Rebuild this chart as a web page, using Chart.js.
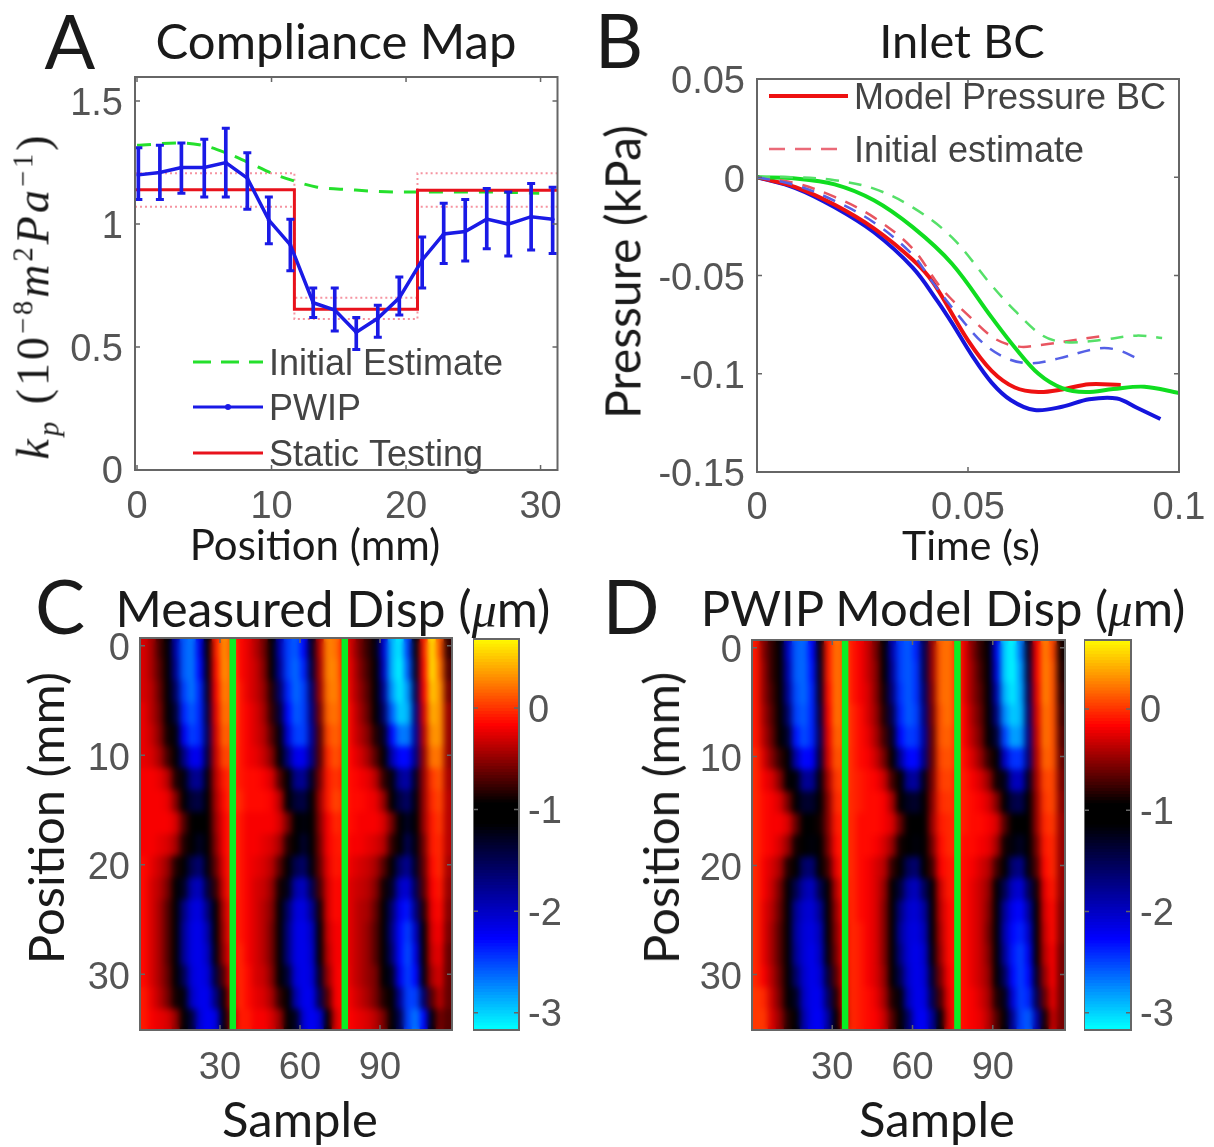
<!DOCTYPE html>
<html>
<head>
<meta charset="utf-8">
<title>Compliance map and displacement</title>
<script src="https://cdn.jsdelivr.net/npm/chart.js@4"></script>
<style>
html, body { margin: 0; background: #fff; }
#fig { position: relative; width: 1214px; height: 1147px; overflow: hidden; filter: blur(0.6px); }
canvas { position: absolute; }
.lbl { position: absolute; white-space: nowrap; transform: translate(-50%, -50%); color: #1a1a1a; font-family: Lato, sans-serif; }
.lbl sup, .lbl sub { font-size: 62%; }
</style>
</head>
<body>
<div id="fig"></div>
<script>
// Panel A: compliance map
var pwipPosition = [0.1, 1.7, 3.3, 5, 6.6, 8.2, 9.8, 11.4, 13.1, 14.7, 16.3, 17.9, 19.5, 21.2, 22.8, 24.4, 26, 27.6, 29.3, 30.9];
var pwipMean = [1.2, 1.21, 1.23, 1.23, 1.25, 1.187, 1.016, 0.915, 0.68, 0.65, 0.56, 0.617, 0.7, 0.854, 0.96, 0.97, 1.02, 1.0, 1.03, 1.02];
var pwipHigh = [1.31, 1.32, 1.33, 1.345, 1.39, 1.29, 1.11, 1.02, 0.74, 0.74, 0.62, 0.67, 0.785, 0.947, 1.085, 1.1, 1.145, 1.13, 1.165, 1.15];
var pwipLow = [1.1, 1.1, 1.125, 1.11, 1.11, 1.06, 0.92, 0.81, 0.62, 0.565, 0.49, 0.54, 0.63, 0.74, 0.84, 0.85, 0.9, 0.87, 0.895, 0.88];
var initialPosition = [0, 3.2, 4.9, 6.6, 8.3, 10, 11.7, 13.4, 15.7, 19.7, 22.5, 26.8, 29.9];
var initialValue = [1.32, 1.33, 1.32, 1.29, 1.25, 1.207, 1.175, 1.15, 1.14, 1.13, 1.13, 1.13, 1.125];
var staticPosition = [-0.15, 11.7, 11.7, 20.85, 20.85, 31.26];
var staticValue = [1.14, 1.14, 0.654, 0.654, 1.138, 1.138];
var staticHigh = [1.207, 1.207, 0.7, 0.7, 1.207, 1.207];
var staticLow = [1.07, 1.07, 0.614, 0.614, 1.07, 1.07];
var aXTicks = [0, 10, 20, 30];
var aYTicks = [0, 0.5, 1, 1.5];

// Panel B: inlet pressure
var blueTime = [0, 0.0091, 0.0184, 0.0277, 0.0369, 0.0426, 0.0463, 0.0509, 0.0556, 0.0602, 0.0658, 0.0723, 0.0787, 0.0853, 0.0899, 0.0956];
var bluePressure = [0, -0.0055, -0.0153, -0.028, -0.046, -0.0625, -0.0745, -0.0905, -0.1045, -0.1135, -0.1185, -0.1168, -0.113, -0.1126, -0.1172, -0.123];
var redTime = [0, 0.0091, 0.0184, 0.0277, 0.0369, 0.0417, 0.05, 0.0556, 0.0611, 0.0667, 0.0723, 0.0787, 0.0862];
var redPressure = [0, -0.005, -0.014, -0.026, -0.042, -0.0535, -0.083, -0.0985, -0.107, -0.1093, -0.108, -0.1053, -0.1057];
var greenTime = [0, 0.0091, 0.0184, 0.0277, 0.0369, 0.0462, 0.0556, 0.0611, 0.0667, 0.0723, 0.0779, 0.0844, 0.0918, 0.1];
var greenPressure = [0, -0.0006, -0.0036, -0.0117, -0.0254, -0.044, -0.0713, -0.0866, -0.1, -0.1073, -0.1093, -0.1078, -0.1066, -0.1098];
var greenDashTime = [0, 0.0091, 0.0184, 0.0277, 0.0369, 0.0462, 0.0556, 0.0611, 0.0677, 0.0733, 0.0816, 0.0899, 0.096];
var greenDashPressure = [0, 0, -0.0015, -0.0058, -0.0153, -0.0306, -0.055, -0.0679, -0.0806, -0.084, -0.0828, -0.0806, -0.0818];
var redDashTime = [0, 0.0091, 0.0184, 0.0277, 0.0369, 0.0435, 0.0509, 0.0565, 0.0621, 0.0677, 0.0742, 0.0811];
var redDashPressure = [0, -0.003, -0.01, -0.0204, -0.0363, -0.056, -0.072, -0.0823, -0.0862, -0.0852, -0.0832, -0.081];
var blueDashTime = [0, 0.0091, 0.0184, 0.0277, 0.0369, 0.0418, 0.0481, 0.0537, 0.0593, 0.0649, 0.0713, 0.0806, 0.0853, 0.0908];
var blueDashPressure = [0, -0.004, -0.012, -0.023, -0.0395, -0.054, -0.0713, -0.0847, -0.0923, -0.0947, -0.0923, -0.0872, -0.0878, -0.0929];
var bXTicks = [0, 0.05, 0.1];
var bYTicks = [0.05, 0, -0.05, -0.1, -0.15];

// Panels C and D: displacement, one row per 2 mm, one column per 3 samples
var rowPositions = [0, 2, 4, 6, 8, 10, 12, 14, 16, 18, 20, 22, 24, 26, 28, 30, 32, 34];
var columnSamples = [1.5, 4.5, 7.5, 10.5, 13.5, 16.5, 19.5, 22.5, 25.5, 28.5, 31.5, 34.5, 37.5, 40.5, 43.5, 46.5, 49.5, 52.5, 55.5, 58.5, 61.5, 64.5, 67.5, 70.5, 73.5, 76.5, 79.5, 82.5, 85.5, 88.5, 91.5, 94.5, 97.5, 100.5, 103.5, 106.5, 109.5, 112.5, 115.5];
var measuredDisp = [
  [-0.3,-0.45,-0.75,-1.1,-1.9,-2.6,-2.7,-2.2,-1.1,-0.1,0.3,0.1,-0.15,-0.25,-0.4,-0.6,-1.0,-1.9,-2.5,-2.6,-2.3,-1.3,-0.4,0.25,0.2,-0.1,-0.35,-0.6,-0.8,-1.2,-2.1,-2.9,-3.1,-2.5,-1.2,-0.1,0.6,0.1,-0.8],
  [-0.3,-0.45,-0.7,-1.05,-1.8,-2.6,-2.7,-2.3,-1.2,-0.15,0.3,0.15,-0.15,-0.25,-0.35,-0.55,-0.95,-1.8,-2.5,-2.65,-2.4,-1.4,-0.45,0.25,0.25,-0.1,-0.3,-0.55,-0.75,-1.1,-2.0,-2.9,-3.15,-2.6,-1.3,-0.15,0.6,0.2,-0.7],
  [-0.3,-0.4,-0.65,-1.0,-1.6,-2.5,-2.7,-2.4,-1.3,-0.2,0.25,0.15,-0.1,-0.25,-0.35,-0.5,-0.85,-1.6,-2.4,-2.65,-2.5,-1.6,-0.5,0.2,0.25,-0.05,-0.3,-0.5,-0.7,-1.0,-1.8,-2.8,-3.1,-2.8,-1.5,-0.2,0.5,0.3,-0.6],
  [-0.25,-0.4,-0.6,-0.95,-1.4,-2.4,-2.6,-2.4,-1.4,-0.25,0.2,0.15,-0.1,-0.2,-0.3,-0.45,-0.8,-1.4,-2.3,-2.6,-2.5,-1.7,-0.6,0.15,0.2,0,-0.25,-0.45,-0.65,-0.95,-1.6,-2.6,-3.0,-2.9,-1.7,-0.3,0.4,0.3,-0.5],
  [-0.25,-0.35,-0.55,-0.9,-1.2,-2.2,-2.5,-2.4,-1.5,-0.3,0.15,0.1,-0.1,-0.2,-0.3,-0.4,-0.7,-1.2,-2.1,-2.5,-2.5,-1.8,-0.7,0.05,0.15,0,-0.25,-0.4,-0.55,-0.85,-1.3,-2.3,-2.7,-2.7,-1.8,-0.4,0.3,0.3,-0.5],
  [-0.25,-0.3,-0.45,-0.75,-1.05,-1.7,-2.2,-2.2,-1.4,-0.35,0.05,0.05,-0.1,-0.2,-0.25,-0.35,-0.55,-1.0,-1.7,-2.2,-2.2,-1.7,-0.7,-0.05,0.1,-0.05,-0.2,-0.3,-0.45,-0.7,-1.1,-1.9,-2.3,-2.3,-1.7,-0.5,0.2,0.2,-0.5],
  [-0.2,-0.2,-0.25,-0.4,-0.85,-1.2,-1.75,-1.8,-1.2,-0.4,-0.1,0,-0.1,-0.15,-0.15,-0.2,-0.3,-0.7,-1.15,-1.75,-1.8,-1.3,-0.6,-0.1,0,-0.1,-0.15,-0.2,-0.25,-0.4,-0.8,-1.2,-1.8,-1.9,-1.3,-0.5,0,0.1,-0.45],
  [-0.2,-0.2,-0.2,-0.25,-0.55,-1.0,-1.4,-1.45,-1.1,-0.45,-0.15,0,-0.05,-0.15,-0.15,-0.15,-0.2,-0.4,-0.95,-1.4,-1.45,-1.1,-0.5,-0.1,0.05,-0.05,-0.15,-0.15,-0.2,-0.25,-0.5,-1.0,-1.45,-1.6,-1.2,-0.5,-0.05,0.05,-0.4],
  [-0.2,-0.2,-0.2,-0.2,-0.3,-0.7,-1.05,-1.15,-1.0,-0.5,-0.2,-0.05,-0.1,-0.2,-0.2,-0.2,-0.2,-0.3,-0.6,-1.05,-1.2,-1.0,-0.55,-0.2,-0.05,-0.1,-0.15,-0.2,-0.2,-0.2,-0.3,-0.6,-1.1,-1.3,-1.1,-0.5,-0.1,0,-0.4],
  [-0.2,-0.2,-0.25,-0.3,-0.45,-0.85,-1.1,-1.3,-1.05,-0.55,-0.2,-0.05,-0.1,-0.2,-0.2,-0.25,-0.3,-0.45,-0.85,-1.1,-1.35,-1.05,-0.6,-0.2,-0.1,-0.1,-0.2,-0.2,-0.25,-0.3,-0.4,-0.8,-1.1,-1.5,-1.2,-0.6,-0.1,-0.05,-0.4],
  [-0.15,-0.25,-0.35,-0.5,-0.85,-1.1,-1.5,-1.65,-1.2,-0.65,-0.25,-0.05,-0.1,-0.2,-0.25,-0.3,-0.4,-0.7,-1.1,-1.5,-1.6,-1.2,-0.65,-0.25,-0.1,-0.15,-0.25,-0.3,-0.35,-0.45,-0.7,-1.1,-1.6,-1.8,-1.3,-0.65,-0.15,-0.05,-0.45],
  [-0.15,-0.3,-0.4,-0.6,-1.0,-1.3,-1.9,-2.0,-1.4,-0.8,-0.3,-0.05,-0.1,-0.2,-0.3,-0.35,-0.5,-0.9,-1.25,-1.9,-2.0,-1.5,-0.75,-0.3,-0.15,-0.2,-0.3,-0.35,-0.4,-0.55,-0.9,-1.3,-2.0,-2.1,-1.5,-0.7,-0.2,-0.1,-0.5],
  [-0.15,-0.3,-0.45,-0.7,-1.05,-1.7,-2.1,-2.15,-1.7,-1.0,-0.4,-0.1,-0.1,-0.2,-0.3,-0.4,-0.55,-1.0,-1.6,-2.1,-2.15,-1.8,-0.9,-0.3,-0.15,-0.2,-0.3,-0.4,-0.45,-0.65,-1.0,-1.6,-2.2,-2.35,-1.7,-0.85,-0.25,-0.15,-0.55],
  [-0.15,-0.3,-0.45,-0.7,-1.05,-1.8,-2.15,-2.2,-1.9,-1.1,-0.45,-0.1,-0.1,-0.2,-0.3,-0.4,-0.6,-1.0,-1.7,-2.15,-2.2,-2.0,-1.05,-0.35,-0.2,-0.2,-0.3,-0.4,-0.5,-0.7,-1.05,-1.7,-2.3,-2.5,-2.0,-1.0,-0.3,-0.2,-0.6],
  [-0.15,-0.3,-0.45,-0.7,-1.05,-1.8,-2.15,-2.2,-2.0,-1.2,-0.5,-0.15,-0.05,-0.2,-0.3,-0.4,-0.6,-1.0,-1.7,-2.15,-2.2,-2.05,-1.15,-0.4,-0.2,-0.2,-0.3,-0.4,-0.5,-0.7,-1.05,-1.6,-2.3,-2.55,-2.15,-1.05,-0.35,-0.25,-0.65],
  [-0.15,-0.3,-0.45,-0.65,-1.0,-1.5,-2.1,-2.2,-2.1,-1.4,-0.7,-0.2,-0.05,-0.15,-0.3,-0.35,-0.55,-0.95,-1.4,-2.1,-2.2,-2.1,-1.3,-0.5,-0.2,-0.15,-0.3,-0.4,-0.5,-0.6,-0.95,-1.3,-2.2,-2.5,-2.3,-1.2,-0.45,-0.3,-0.65],
  [-0.1,-0.25,-0.4,-0.6,-0.9,-1.2,-2.0,-2.2,-2.2,-1.7,-0.9,-0.3,-0.05,-0.15,-0.25,-0.3,-0.45,-0.8,-1.15,-1.9,-2.2,-2.2,-1.5,-0.7,-0.2,-0.15,-0.25,-0.35,-0.45,-0.6,-0.85,-1.1,-1.8,-2.5,-2.5,-1.6,-0.7,-0.4,-0.65],
  [-0.1,-0.2,-0.25,-0.3,-0.5,-1.0,-1.4,-2.1,-2.25,-2.15,-1.2,-0.5,-0.1,-0.1,-0.2,-0.2,-0.3,-0.5,-1.0,-1.3,-2.1,-2.25,-2.1,-1.1,-0.3,-0.15,-0.2,-0.25,-0.3,-0.4,-0.6,-1.0,-1.5,-2.5,-2.7,-2.3,-1.2,-0.6,-0.7]
];
var modelDisp = [
  [-0.1,-0.55,-0.8,-1.1,-2.0,-2.6,-2.65,-2.3,-1.2,-0.1,0.2,0.1,-0.1,-0.2,-0.35,-0.6,-1.0,-1.9,-2.5,-2.6,-2.4,-1.5,-0.5,0.15,0.2,0,-0.25,-0.55,-0.8,-1.15,-2.2,-3.0,-3.15,-2.7,-1.3,-0.2,0.25,0.05,-0.9],
  [-0.1,-0.5,-0.8,-1.1,-1.9,-2.6,-2.65,-2.35,-1.25,-0.1,0.2,0.1,-0.1,-0.2,-0.35,-0.55,-0.95,-1.8,-2.5,-2.6,-2.45,-1.5,-0.5,0.15,0.2,0,-0.25,-0.5,-0.75,-1.1,-2.1,-3.0,-3.15,-2.8,-1.4,-0.2,0.25,0.1,-0.85],
  [-0.1,-0.5,-0.75,-1.05,-1.8,-2.55,-2.65,-2.4,-1.3,-0.15,0.2,0.1,-0.1,-0.2,-0.3,-0.55,-0.9,-1.7,-2.45,-2.6,-2.45,-1.6,-0.55,0.15,0.2,0,-0.25,-0.5,-0.7,-1.05,-1.9,-2.9,-3.1,-2.85,-1.5,-0.25,0.25,0.1,-0.8],
  [-0.1,-0.45,-0.7,-1.0,-1.6,-2.5,-2.6,-2.4,-1.4,-0.2,0.2,0.1,-0.05,-0.15,-0.3,-0.5,-0.85,-1.5,-2.4,-2.6,-2.5,-1.7,-0.6,0.1,0.2,0,-0.2,-0.45,-0.65,-1.0,-1.7,-2.75,-3.0,-2.9,-1.6,-0.3,0.2,0.1,-0.75],
  [-0.1,-0.4,-0.65,-0.95,-1.35,-2.35,-2.55,-2.4,-1.5,-0.25,0.15,0.1,-0.05,-0.15,-0.25,-0.45,-0.75,-1.3,-2.3,-2.5,-2.45,-1.8,-0.65,0.1,0.15,0,-0.2,-0.4,-0.6,-0.95,-1.4,-2.5,-2.85,-2.8,-1.7,-0.35,0.2,0.1,-0.7],
  [-0.05,-0.3,-0.55,-0.8,-1.1,-1.9,-2.3,-2.25,-1.4,-0.3,0.1,0.05,-0.05,-0.15,-0.2,-0.35,-0.6,-1.05,-1.8,-2.3,-2.3,-1.7,-0.65,0.05,0.1,0,-0.15,-0.3,-0.5,-0.8,-1.1,-2.0,-2.45,-2.45,-1.65,-0.4,0.15,0.1,-0.65],
  [-0.05,-0.2,-0.3,-0.55,-0.95,-1.2,-1.8,-1.8,-1.2,-0.45,0,0.05,-0.05,-0.1,-0.15,-0.2,-0.35,-0.75,-1.15,-1.8,-1.85,-1.25,-0.6,0,0.05,-0.05,-0.1,-0.2,-0.3,-0.5,-0.9,-1.25,-1.95,-2.0,-1.3,-0.45,0.05,0.05,-0.6],
  [-0.05,-0.15,-0.2,-0.3,-0.6,-1.0,-1.35,-1.35,-1.05,-0.55,-0.05,0,-0.05,-0.1,-0.15,-0.15,-0.2,-0.45,-0.95,-1.3,-1.35,-1.05,-0.55,-0.05,0,-0.05,-0.1,-0.15,-0.2,-0.3,-0.55,-1.0,-1.45,-1.5,-1.1,-0.5,0,0.05,-0.55],
  [-0.05,-0.15,-0.2,-0.2,-0.3,-0.65,-1.05,-1.05,-0.9,-0.55,-0.1,-0.05,-0.05,-0.15,-0.15,-0.15,-0.2,-0.3,-0.65,-1.0,-1.05,-0.95,-0.5,-0.1,-0.05,-0.05,-0.1,-0.15,-0.15,-0.2,-0.3,-0.7,-1.05,-1.1,-1.0,-0.5,-0.05,0,-0.5],
  [-0.05,-0.15,-0.2,-0.3,-0.5,-0.9,-1.15,-1.2,-1.0,-0.6,-0.15,-0.05,-0.05,-0.15,-0.15,-0.2,-0.3,-0.5,-0.9,-1.1,-1.2,-1.0,-0.6,-0.15,-0.05,-0.05,-0.15,-0.15,-0.2,-0.25,-0.45,-0.9,-1.2,-1.3,-1.05,-0.6,-0.1,-0.05,-0.5],
  [-0.05,-0.2,-0.3,-0.45,-0.85,-1.1,-1.6,-1.65,-1.15,-0.75,-0.25,-0.05,-0.05,-0.15,-0.2,-0.3,-0.4,-0.8,-1.1,-1.55,-1.65,-1.15,-0.75,-0.2,-0.1,-0.1,-0.15,-0.2,-0.3,-0.4,-0.75,-1.1,-1.65,-1.75,-1.2,-0.7,-0.15,-0.05,-0.5],
  [-0.05,-0.2,-0.35,-0.6,-1.0,-1.5,-1.9,-2.0,-1.5,-1.0,-0.4,-0.1,-0.05,-0.15,-0.2,-0.3,-0.5,-0.95,-1.4,-1.9,-2.0,-1.55,-0.95,-0.35,-0.1,-0.1,-0.15,-0.25,-0.35,-0.5,-0.95,-1.5,-2.0,-2.1,-1.55,-0.9,-0.25,-0.1,-0.5],
  [-0.05,-0.25,-0.4,-0.65,-1.05,-1.8,-2.05,-2.1,-1.8,-1.05,-0.5,-0.15,-0.05,-0.15,-0.2,-0.3,-0.55,-1.0,-1.7,-2.05,-2.1,-1.85,-1.05,-0.4,-0.15,-0.1,-0.15,-0.25,-0.35,-0.55,-1.0,-1.8,-2.2,-2.3,-1.85,-1.0,-0.3,-0.15,-0.55],
  [-0.05,-0.25,-0.45,-0.7,-1.05,-1.85,-2.1,-2.15,-1.95,-1.1,-0.55,-0.2,-0.05,-0.1,-0.2,-0.3,-0.55,-1.0,-1.8,-2.1,-2.15,-1.95,-1.1,-0.45,-0.15,-0.1,-0.15,-0.25,-0.35,-0.6,-1.05,-1.9,-2.3,-2.4,-2.05,-1.05,-0.35,-0.15,-0.55],
  [-0.05,-0.25,-0.45,-0.7,-1.05,-1.8,-2.1,-2.2,-2.0,-1.2,-0.6,-0.2,-0.05,-0.1,-0.2,-0.3,-0.55,-1.0,-1.7,-2.1,-2.2,-2.05,-1.2,-0.5,-0.15,-0.1,-0.15,-0.25,-0.35,-0.55,-1.0,-1.8,-2.35,-2.5,-2.2,-1.15,-0.4,-0.2,-0.6],
  [-0.05,-0.2,-0.4,-0.65,-1.0,-1.6,-2.05,-2.2,-2.1,-1.4,-0.7,-0.25,-0.05,-0.1,-0.2,-0.3,-0.5,-0.95,-1.5,-2.05,-2.2,-2.1,-1.35,-0.6,-0.2,-0.1,-0.15,-0.25,-0.35,-0.5,-0.95,-1.55,-2.3,-2.5,-2.3,-1.3,-0.5,-0.2,-0.6],
  [0,-0.05,-0.35,-0.6,-0.95,-1.3,-2.0,-2.2,-2.2,-1.6,-0.85,-0.3,-0.05,-0.1,-0.15,-0.25,-0.45,-0.85,-1.2,-1.95,-2.2,-2.15,-1.5,-0.75,-0.25,-0.1,-0.15,-0.2,-0.3,-0.45,-0.85,-1.25,-2.1,-2.5,-2.4,-1.5,-0.65,-0.25,-0.6],
  [0,0,-0.3,-0.5,-0.85,-1.1,-1.9,-2.2,-2.25,-1.85,-1.05,-0.4,-0.05,-0.1,-0.15,-0.2,-0.35,-0.7,-1.05,-1.6,-2.2,-2.25,-1.8,-1.0,-0.3,-0.1,-0.15,-0.2,-0.25,-0.4,-0.7,-1.05,-1.8,-2.5,-2.6,-1.9,-0.9,-0.35,-0.6]
];
var cutSamples = [34.8, 76.8];
var heatXTicks = [30, 60, 90];
var heatYTicks = [0, 10, 20, 30];
var colorbarTicks = [0, -1, -2, -3];

// Colour map
var cmapValues = [-3.17, -2.28, -1.15, -0.95, -0.18, 0.28, 0.68];
var cmapColors = [[0, 255, 255], [0, 0, 255], [0, 0, 0], [0, 0, 0], [255, 0, 0], [255, 140, 0], [255, 255, 0]];

var TICK_FONT = "Liberation Sans";
var TICK_COLOR = "#555";
var fig = document.getElementById("fig");

function heatColor(v) {
  if (v <= cmapValues[0]) return "rgb(" + cmapColors[0].join(",") + ")";
  for (var i = 1; i < cmapValues.length; i++) {
    if (v <= cmapValues[i]) {
      var f = (v - cmapValues[i - 1]) / (cmapValues[i] - cmapValues[i - 1]);
      var a = cmapColors[i - 1], b = cmapColors[i];
      return "rgb(" + [0, 1, 2].map((k) => Math.round(a[k] + (b[k] - a[k]) * f)).join(",") + ")";
    }
  }
  return "rgb(" + cmapColors[cmapColors.length - 1].join(",") + ")";
}

function zip(xs, ys) {
  return xs.map((x, i) => ({ x: x, y: ys[i] }));
}

function addText(html, x, y, size, opts) {
  var el = document.createElement("div");
  el.className = "lbl";
  el.innerHTML = html;
  el.style.left = x + "px";
  el.style.top = y + "px";
  el.style.fontSize = size + "px";
  opts = opts || {};
  if (opts.rotate) el.style.transform = "translate(-50%, -50%) rotate(-90deg)";
  if (opts.family) el.style.fontFamily = opts.family;
  if (opts.spacing) el.style.letterSpacing = opts.spacing + "px";
  fig.appendChild(el);
}

function addCanvas(box) {
  var c = document.createElement("canvas");
  c.width = box.right - box.left;
  c.height = box.bottom - box.top;
  c.style.left = box.left + "px";
  c.style.top = box.top + "px";
  fig.appendChild(c);
  return c.getContext("2d");
}

// Frame and small inward ticks on all four sides, like the MATLAB axes
var framePlugin = {
  id: "frame",
  afterDraw(chart) {
    var ctx = chart.ctx, a = chart.chartArea, len = 5;
    ctx.save();
    ctx.strokeStyle = "#666";
    ctx.lineWidth = 2;
    ctx.strokeRect(a.left, a.top, a.right - a.left, a.bottom - a.top);
    ctx.lineWidth = 1.5;
    ctx.beginPath();
    if (chart.scales.x.options.display) {
      chart.scales.x.ticks.forEach((t) => {
        var px = chart.scales.x.getPixelForValue(t.value);
        ctx.moveTo(px, a.top); ctx.lineTo(px, a.top + len);
        ctx.moveTo(px, a.bottom); ctx.lineTo(px, a.bottom - len);
      });
    }
    chart.scales.y.ticks.forEach((t) => {
      var py = chart.scales.y.getPixelForValue(t.value);
      ctx.moveTo(a.left, py); ctx.lineTo(a.left + len, py);
      ctx.moveTo(a.right, py); ctx.lineTo(a.right - len, py);
    });
    ctx.stroke();
    ctx.restore();
  },
};

// Soften the cells just before the green lines go on
var smoothPlugin = {
  id: "smooth",
  beforeDatasetDraw(chart, args) {
    if (args.index !== chart.data.datasets.length - 1) return;
    var ctx = chart.ctx, a = chart.chartArea;
    var w = a.right - a.left, h = a.bottom - a.top;
    ctx.save();
    ctx.beginPath();
    ctx.rect(a.left, a.top, w, h);
    ctx.clip();
    ctx.filter = "blur(3px)";
    ctx.drawImage(chart.canvas, a.left, a.top, w, h, a.left, a.top, w, h);
    ctx.restore();
  },
};

function legendPlugin(box, items) {
  return {
    id: "insideLegend",
    afterDatasetsDraw(chart) {
      var ctx = chart.ctx;
      ctx.save();
      ctx.font = "36px " + TICK_FONT;
      ctx.textBaseline = "middle";
      items.forEach((it) => {
        ctx.strokeStyle = it.color;
        ctx.lineWidth = it.width;
        ctx.setLineDash(it.dash || []);
        ctx.beginPath();
        ctx.moveTo(it.x0 - box.left, it.y - box.top);
        ctx.lineTo(it.x1 - box.left, it.y - box.top);
        ctx.stroke();
        ctx.setLineDash([]);
        if (it.dot) {
          ctx.fillStyle = it.color;
          ctx.beginPath();
          ctx.arc((it.x0 + it.x1) / 2 - box.left, it.y - box.top, 3, 0, Math.PI * 2);
          ctx.fill();
        }
        ctx.fillStyle = "#444";
        ctx.fillText(it.label, it.tx - box.left, it.y - box.top + 3);
      });
      ctx.restore();
    },
  };
}

function noPadding(s) {
  s.paddingLeft = 0;
  s.paddingRight = 0;
  s.paddingTop = 0;
  s.paddingBottom = 0;
}

function tickScale(min, max, values, pad, labelOffset, extra) {
  return Object.assign({
    min: min,
    max: max,
    type: "linear",
    offset: false,
    grid: { display: false, drawTicks: false },
    border: { display: false },
    afterBuildTicks(s) { s.ticks = values.map((v) => ({ value: v })); },
    ticks: {
      autoSkip: false,
      maxRotation: 0,
      padding: pad,
      labelOffset: labelOffset,
      color: TICK_COLOR,
      font: { family: TICK_FONT, size: 38 },
      callback: (v) => String(v),
    },
  }, extra);
}

function axesOptions(box, plot, xScale, yScale) {
  xScale.afterFit = (s) => { s.height = box.bottom - plot.bottom; noPadding(s); };
  yScale.afterFit = (s) => { s.width = plot.left - box.left; noPadding(s); };
  return {
    responsive: false,
    animation: false,
    layout: { padding: { left: 0, top: plot.top - box.top, right: box.right - plot.right, bottom: 0 } },
    plugins: { legend: { display: false }, tooltip: { enabled: false } },
    scales: { x: xScale, y: yScale },
  };
}

// Panel A
var aBox = { left: 40, top: 40, right: 590, bottom: 530 };
var aPlot = { left: 135, top: 77, right: 557.5, bottom: 470 };
new Chart(addCanvas(aBox), {
  type: "line",
  data: {
    datasets: [
      { label: "Static high", data: zip(staticPosition, staticHigh), borderColor: "rgba(240,90,110,0.65)", borderWidth: 2, borderDash: [2, 3], pointRadius: 0, order: 5 },
      { label: "Static low", data: zip(staticPosition, staticLow), borderColor: "rgba(240,90,110,0.65)", borderWidth: 2, borderDash: [2, 3], pointRadius: 0, order: 5 },
      { label: "Static Testing", data: zip(staticPosition, staticValue), borderColor: "#e8121c", borderWidth: 3, pointRadius: 0, order: 3 },
      { label: "Initial Estimate", data: zip(initialPosition, initialValue), borderColor: "#25e02c", borderWidth: 3, borderDash: [14, 11], pointRadius: 0, cubicInterpolationMode: "monotone", order: 4 },
      { type: "bar", label: "PWIP range", data: pwipPosition.map((x, i) => ({ x: x, y: [pwipLow[i], pwipHigh[i]] })), backgroundColor: "#1a1ae6", barThickness: 3, borderWidth: 0, order: 2 },
      { label: "PWIP high", data: zip(pwipPosition, pwipHigh), showLine: false, pointStyle: "line", pointRadius: 4, pointBorderWidth: 3, pointBorderColor: "#1a1ae6", order: 2 },
      { label: "PWIP low", data: zip(pwipPosition, pwipLow), showLine: false, pointStyle: "line", pointRadius: 4, pointBorderWidth: 3, pointBorderColor: "#1a1ae6", order: 2 },
      { label: "PWIP", data: zip(pwipPosition, pwipMean), borderColor: "#1a1ae6", borderWidth: 3.5, pointRadius: 2, pointBackgroundColor: "#1a1ae6", pointBorderWidth: 0, order: 1 },
    ],
  },
  options: axesOptions(aBox, aPlot,
    tickScale(-0.15, 31.26, aXTicks, 15, 0),
    tickScale(0, 1.598, aYTicks, 12, 3)),
  plugins: [framePlugin, legendPlugin(aBox, [
    { label: "Initial Estimate", color: "#25e02c", width: 3, dash: [18, 10], x0: 193, x1: 263, tx: 269, y: 362 },
    { label: "PWIP", color: "#1a1ae6", width: 3, dot: true, x0: 193, x1: 263, tx: 269, y: 407 },
    { label: "Static Testing", color: "#e8121c", width: 3, x0: 193, x1: 263, tx: 269, y: 453 },
  ])],
});

// Panel B
var bBox = { left: 650, top: 40, right: 1214, bottom: 530 };
var bPlot = { left: 757, top: 79, right: 1179, bottom: 472 };
new Chart(addCanvas(bBox), {
  type: "line",
  data: {
    datasets: [
      { label: "Blue dashed", data: zip(blueDashTime, blueDashPressure), borderColor: "#5560e6", borderWidth: 2.5, borderDash: [13, 10], pointRadius: 0, tension: 0.35 },
      { label: "Green dashed", data: zip(greenDashTime, greenDashPressure), borderColor: "#55e068", borderWidth: 2.5, borderDash: [13, 10], pointRadius: 0, tension: 0.35 },
      { label: "Initial estimate", data: zip(redDashTime, redDashPressure), borderColor: "#e85560", borderWidth: 2.5, borderDash: [13, 10], pointRadius: 0, tension: 0.35 },
      { label: "Green", data: zip(greenTime, greenPressure), borderColor: "#10dd20", borderWidth: 4, pointRadius: 0, tension: 0.35 },
      { label: "Model Pressure BC", data: zip(redTime, redPressure), borderColor: "#ee1111", borderWidth: 4, pointRadius: 0, tension: 0.35 },
      { label: "Blue", data: zip(blueTime, bluePressure), borderColor: "#1515dd", borderWidth: 4, pointRadius: 0, tension: 0.35 },
    ],
  },
  options: axesOptions(bBox, bPlot,
    tickScale(0, 0.1, bXTicks, 14, 0),
    tickScale(-0.15, 0.05, bYTicks, 12, 4)),
  plugins: [framePlugin, legendPlugin(bBox, [
    { label: "Model Pressure BC", color: "#ee1111", width: 4, x0: 769, x1: 848, tx: 854, y: 96 },
    { label: "Initial estimate", color: "#ea6a78", width: 2.5, dash: [16, 10], x0: 769, x1: 840, tx: 854, y: 149 },
  ])],
});

// Panels C and D
function heatPanel(box, plot, matrix) {
  var datasets = matrix.map((row, r) => ({
    type: "bar",
    label: "Position " + rowPositions[r],
    data: row.map((v, c) => ({ x: columnSamples[c], y: [rowPositions[r] - 1.15, rowPositions[r] + 1.15] })),
    backgroundColor: row.map(heatColor),
    borderWidth: 0,
    barPercentage: 1,
    categoryPercentage: 1,
    grouped: false,
    order: 2,
  }));
  cutSamples.forEach((s) => {
    datasets.push({
      type: "line",
      label: "Cut " + s,
      data: [{ x: s, y: -0.7 }, { x: s, y: 35.1 }],
      borderColor: "#08ee24",
      borderWidth: 6.5,
      pointRadius: 0,
      order: 1,
    });
  });
  new Chart(addCanvas(box), {
    type: "bar",
    data: { datasets: datasets },
    options: axesOptions(box, plot,
      tickScale(0, 117, heatXTicks, 16, 0),
      tickScale(-0.7, 35.1, heatYTicks, 10, 4, { reverse: true })),
    plugins: [smoothPlugin, framePlugin],
  });
}

function colorbar(box, plot) {
  var levels = [];
  for (var i = 0; i < 128; i++) levels.push(-3.17 + (i * 3.85) / 128);
  var datasets = levels.map((v) => ({
    data: [[v - 0.01, v + 3.85 / 128 + 0.01]],
    backgroundColor: heatColor(v + 1.925 / 128),
    borderWidth: 0,
    barPercentage: 1,
    categoryPercentage: 1,
    grouped: false,
  }));
  new Chart(addCanvas(box), {
    type: "bar",
    data: { labels: ["colour"], datasets: datasets },
    options: {
      responsive: false,
      animation: false,
      layout: { padding: { left: 0, top: plot.top - box.top, right: 0, bottom: box.bottom - plot.bottom } },
      plugins: { legend: { display: false }, tooltip: { enabled: false } },
      scales: {
        x: { display: false },
        y: tickScale(-3.17, 0.68, colorbarTicks, 9, 3, {
          position: "right",
          afterFit(s) { s.width = box.right - plot.right; noPadding(s); },
        }),
      },
    },
    plugins: [framePlugin],
  });
}

heatPanel({ left: 70, top: 600, right: 470, bottom: 1095 }, { left: 140, top: 638, right: 452, bottom: 1030 }, measuredDisp);
heatPanel({ left: 682, top: 600, right: 1083, bottom: 1095 }, { left: 752, top: 640, right: 1065, bottom: 1030 }, modelDisp);
colorbar({ left: 473, top: 600, right: 580, bottom: 1060 }, { left: 473, top: 639, right: 519, bottom: 1030 });
colorbar({ left: 1084, top: 600, right: 1200, bottom: 1060 }, { left: 1084, top: 640, right: 1131, bottom: 1030 });

// Panel letters, titles and axis titles
addText("A", 70, 40, 75);
addText("B", 619, 39, 75);
addText("C", 60, 605, 75);
addText("D", 631, 605, 75);
addText("Compliance Map", 336, 40, 49);
addText("Inlet BC", 962, 40, 47);
addText('Measured Disp (<span style="font-family:\'Liberation Serif\';font-style:italic">μ</span>m)', 333, 608, 50);
addText('PWIP Model Disp (<span style="font-family:\'Liberation Serif\';font-style:italic">μ</span>m)', 943, 608, 49);
addText("Position (mm)", 315, 544, 42);
addText("Time (s)", 971, 544, 41);
addText("Sample", 300, 1118, 49);
addText("Sample", 937, 1118, 49);
addText("Pressure (kPa)", 622, 272, 48, { rotate: true });
addText("Position (mm)", 45, 818, 49, { rotate: true });
addText("Position (mm)", 660, 818, 49, { rotate: true });
addText('<i>k<sub>p</sub></i> (10<sup>−8</sup><i>m</i><sup>2</sup><i>Pa</i><sup>−1</sup>)', 36, 296, 46, { rotate: true, family: "'Liberation Serif', serif", spacing: 3 });
</script>
</body>
</html>
